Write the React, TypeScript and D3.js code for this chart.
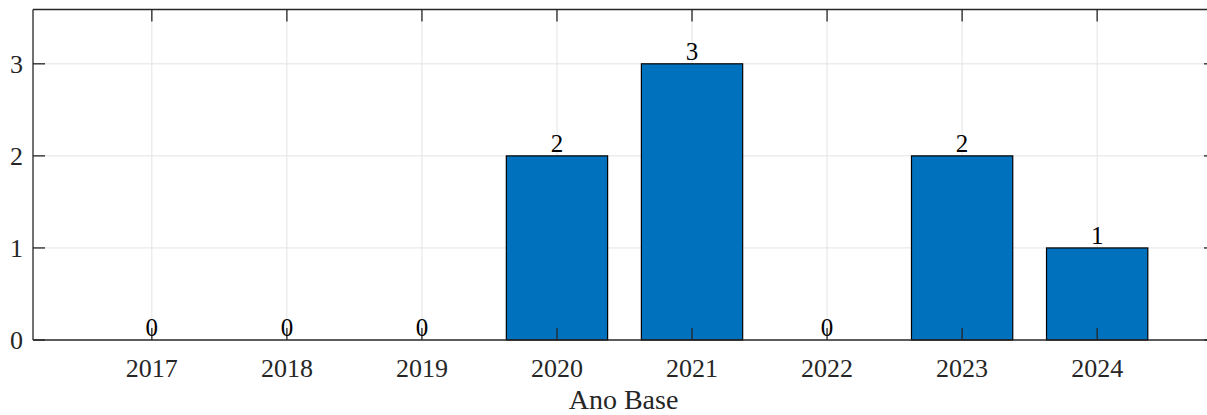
import React from "react";
import * as d3 from "d3";

const years = [2017, 2018, 2019, 2020, 2021, 2022, 2023, 2024];
const counts = [0, 0, 0, 2, 3, 0, 2, 1];
const yTicks = [0, 1, 2, 3];
const xLabel = "Ano Base";

const W = 1207;
const H = 415;
const left = 33;
const right = 1216;
const top = 9.5;
const bottom = 340;
const FONT = "'Liberation Serif', 'Times New Roman', serif";
const AX = "#262626";
const GRID = "#e3e3e3";
const BAR = "#0072BD";

export default function App() {
  const x = d3.scaleLinear().domain([2016.12, 2024.88]).range([left, right]);
  const y = d3.scaleLinear().domain([0, 3.59]).range([bottom, top]);
  const step = x(2018) - x(2017);
  const bw = step * 0.75;
  const tl = 12;

  return (
    <svg
      width={W}
      height={H}
      style={{ position: "absolute", left: 0, top: 0, display: "block", background: "#fff" }}
      fontFamily={FONT}
    >
      <rect x={0} y={0} width={W} height={H} fill="#fff" />
      {years.map((yr) => (
        <line key={"gx" + yr} x1={x(yr)} x2={x(yr)} y1={top} y2={bottom} stroke={GRID} strokeWidth={1} />
      ))}
      {yTicks.filter((t) => t > 0).map((t) => (
        <line key={"gy" + t} x1={left} x2={right} y1={y(t)} y2={y(t)} stroke={GRID} strokeWidth={1} />
      ))}
      {years.map((yr, i) => (
        <rect
          key={"b" + yr}
          x={x(yr) - bw / 2}
          y={y(counts[i])}
          width={bw}
          height={y(0) - y(counts[i])}
          fill={BAR}
          stroke="#000"
          strokeWidth={1.2}
        />
      ))}
      <line x1={left} x2={right} y1={top} y2={top} stroke={AX} strokeWidth={1.3} />
      <line x1={left} x2={right} y1={bottom} y2={bottom} stroke={AX} strokeWidth={1.3} />
      <line x1={left} x2={left} y1={top} y2={bottom} stroke={AX} strokeWidth={1.3} />
      <line x1={right} x2={right} y1={top} y2={bottom} stroke={AX} strokeWidth={1.3} />
      {years.map((yr) => (
        <g key={"tx" + yr}>
          <line x1={x(yr)} x2={x(yr)} y1={bottom} y2={bottom - tl} stroke={AX} strokeWidth={1.3} />
          <line x1={x(yr)} x2={x(yr)} y1={top} y2={top + tl} stroke={AX} strokeWidth={1.3} />
          <text x={x(yr)} y={377} textAnchor="middle" fontSize={26} fill={AX}>
            {yr}
          </text>
        </g>
      ))}
      {yTicks.map((t) => (
        <g key={"ty" + t}>
          <line x1={left} x2={left + tl} y1={y(t)} y2={y(t)} stroke={AX} strokeWidth={1.3} />
          <line x1={right} x2={right - tl} y1={y(t)} y2={y(t)} stroke={AX} strokeWidth={1.3} />
          <text x={23} y={y(t)} dy="0.35em" textAnchor="end" fontSize={26} fill={AX}>
            {t}
          </text>
        </g>
      ))}
      {years.map((yr, i) => (
        <text key={"v" + yr} x={x(yr)} y={y(counts[i]) - 4} textAnchor="middle" fontSize={25} fill="#000">
          {counts[i]}
        </text>
      ))}
      <text x={(left + right) / 2 - 1} y={409} textAnchor="middle" fontSize={28} fill={AX}>
        {xLabel}
      </text>
    </svg>
  );
}
